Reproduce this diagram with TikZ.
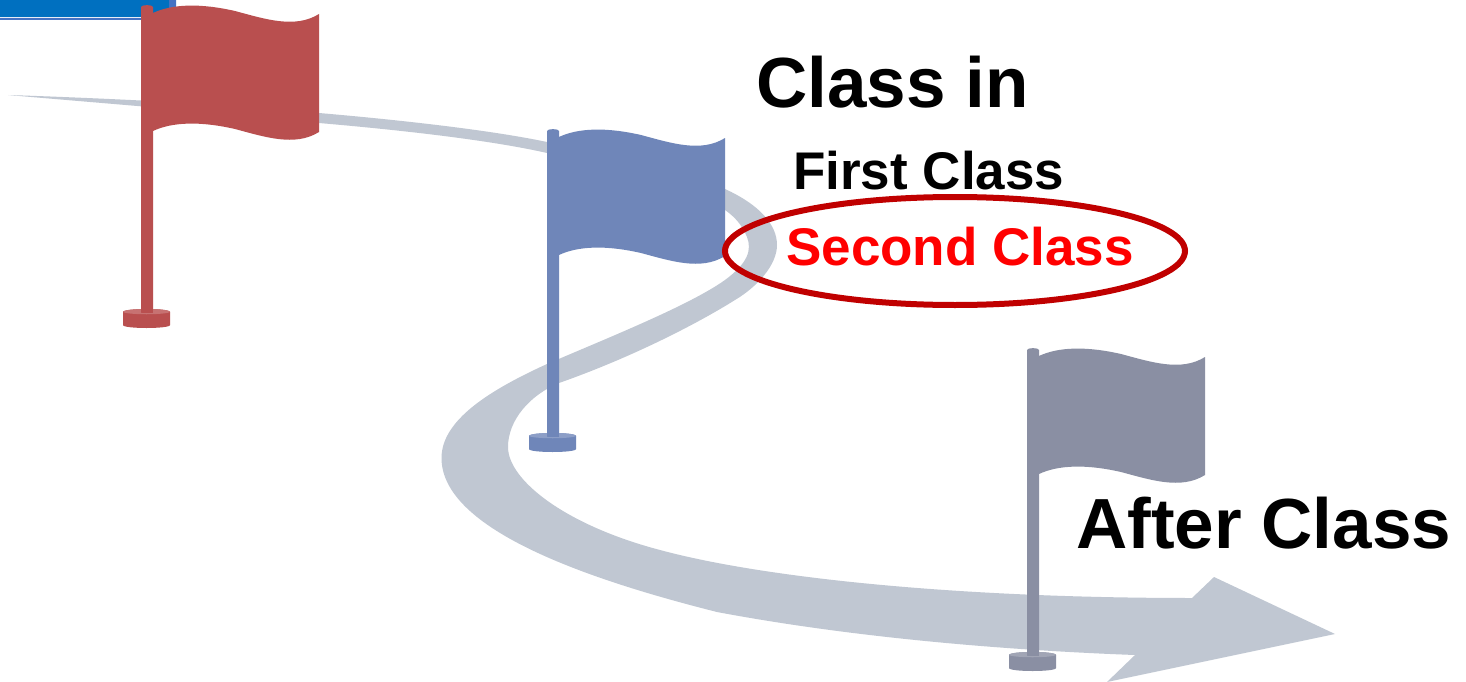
\documentclass[tikz,border=0pt]{standalone}
\usetikzlibrary{shapes.geometric}
\usepackage{fontspec}
\setmainfont{Liberation Sans}
\definecolor{roadc}{HTML}{C0C7D2}
\definecolor{redf}{HTML}{B94F4F}
\definecolor{bluef}{HTML}{6F86B9}
\definecolor{grayf}{HTML}{8A8FA3}
\definecolor{winblue}{HTML}{0070C0}
\definecolor{winline}{HTML}{4472C4}
\definecolor{ovalc}{HTML}{C00000}
\definecolor{redtext}{HTML}{FF0000}
\tikzset{
  lab/.style={anchor=base west,inner sep=0pt,font=\bfseries\fontsize{71}{71}\selectfont,text=black},
  sublab/.style={anchor=base west,inner sep=0pt,font=\bfseries\fontsize{53}{53}\selectfont,text=black},
  pics/flag/.style={code={
    \fill[#1] (141,7) .. controls (141,4.5) and (153,4.5) .. (153,7) -- (153,13)
      .. controls (172,4) and (200,3) .. (235,11)
      .. controls (265,19) and (295,29) .. (319,14)
      -- (319,132)
      .. controls (295,147) and (265,137) .. (235,129)
      .. controls (200,121) and (172,122) .. (153,131)
      -- (153,312) -- (141,312) -- cycle;
    \fill[#1] (123,312) .. controls (123,308) and (170,308) .. (170,312) -- (170,325)
      .. controls (170,329) and (123,329) .. (123,325) -- cycle;
    \fill[#1!80!white] (123,312) .. controls (123,309.5) and (141,309) .. (141,309) -- (141,313)
      -- (153,313) -- (153,309) .. controls (153,309) and (170,309.5) .. (170,312)
      .. controls (165,315) and (128,315) .. (123,312) -- cycle;
    \fill[#1] (141,309) rectangle (153,312);
  }}
}
\begin{document}
\begin{tikzpicture}[x=1pt,y=-1pt]
\useasboundingbox (0,0) rectangle (1466,682);
\fill[white] (0,0) rectangle (1466,682);
\fill[winblue] (0,0) rectangle (170,17);
\fill[winline] (0,18) rectangle (170,20) (169,0) rectangle (176,20);
% road
\fill[roadc] (8,95) .. controls (100,98) and (250,105) .. (319,113)
  .. controls (400,120) and (490,130) .. (547,142)
  .. controls (620,152) and (690,165) .. (725,189)
  .. controls (760,205) and (777,225) .. (777,245)
  .. controls (777,265) and (757,287) .. (735,300)
  .. controls (695,325) and (630,358) .. (559,383)
  .. controls (530,395) and (508,420) .. (508,447)
  .. controls (508,480) and (565,525) .. (660,550)
  .. controls (760,577) and (950,598) .. (1192,598)
  -- (1214,577) -- (1335,634) -- (1107,682) -- (1135,655)
  .. controls (1000,650) and (850,637) .. (717,612)
  .. controls (590,580) and (441.5,530) .. (441.5,458)
  .. controls (441.5,420) and (490,390) .. (547,364)
  .. controls (610,337) and (690,305) .. (725,280)
  .. controls (748,263) and (752,250) .. (747,237)
  .. controls (742,225) and (735,217) .. (725,210)
  .. controls (680,175) and (620,165) .. (547,153)
  .. controls (490,140) and (400,130) .. (319,123)
  .. controls (250,115) and (100,103) .. (8,95) -- cycle;
% flags
\pic at (0,0) {flag=redf};
\pic at (406,124) {flag=bluef};
\pic at (886,343) {flag=grayf};
% labels
\node[lab] (classin) at (756,108) {Class in};
\node[sublab] (first) at (793,189) {First Class};
\node[sublab,text=redtext] (second) at (786,265) {Second Class};
\node[lab] (after) at (1076,548) {After Class};
\node[draw=ovalc,line width=6pt,ellipse,minimum width=460pt,minimum height=108pt,inner sep=0pt] (oval) at (955,251) {};
\end{tikzpicture}
\end{document}
